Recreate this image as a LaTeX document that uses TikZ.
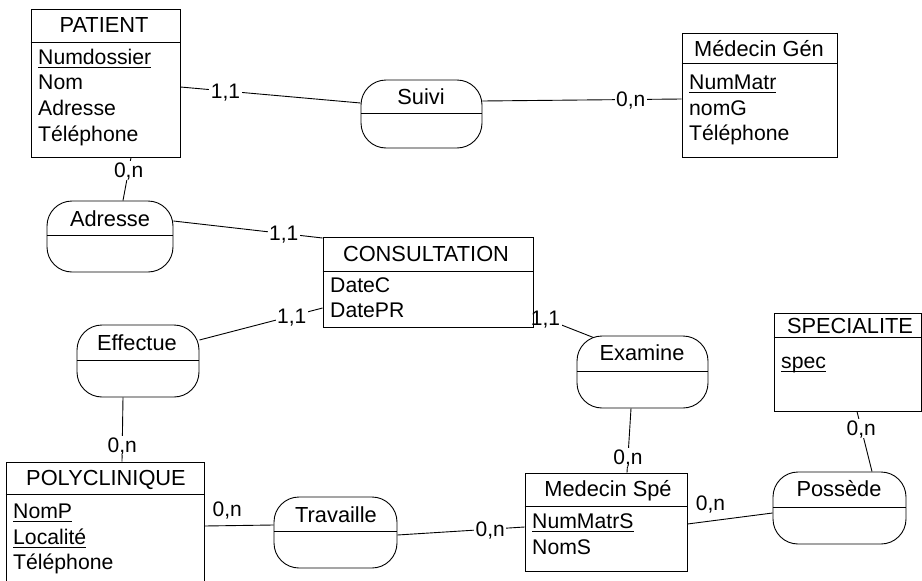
\documentclass[tikz,border=0pt]{standalone}
\usepackage{fontspec}
\setmainfont{Liberation Sans}
\usetikzlibrary{calc}
\pgfdeclarelayer{bg}
\pgfsetlayers{bg,main}
\newcommand\ulx[1]{\setbox0=\hbox{#1}\rlap{\rule[-3.4pt]{\wd0}{1.3pt}}\box0}
\tikzset{
  box/.style={draw, line width=0.9pt, inner sep=0pt, rectangle},
  ent/.style={box},
  rel/.style={box, rounded corners=25pt},
  div/.style={line width=0.9pt},
  ttl/.style={inner sep=0pt, text height=15.5pt, text depth=0pt, anchor=center, font=\fontsize{21.8pt}{25pt}\selectfont},
  att/.style={inner sep=0pt, text height=15.2pt, text depth=0pt, anchor=west, font=\fontsize{21.2pt}{25pt}\selectfont},
  card/.style={fill=white, inner sep=1.5pt, text height=15pt, text depth=1pt, font=\fontsize{21pt}{25pt}\selectfont},
  cardtxt/.style={inner sep=1.5pt, text height=15pt, text depth=1pt, font=\fontsize{21pt}{25pt}\selectfont},
  link/.style={draw, line width=0.9pt},
}
\begin{document}
\begin{tikzpicture}[x=1pt, y=-1pt]
\useasboundingbox (0,0) rectangle (922,581);

% ---------- entities ----------
\node[ent, minimum width=149pt, minimum height=148pt] (patient) at (105.5,83) {};
\draw[div] (patient.west |- 0,42.5) -- (patient.east |- 0,42.5);
\node[ttl] (patientT) at (104,25) {PATIENT};
\node[att] (patientA1) at (38,57) {\ulx{Numdossier}};
\node[att] (patientA2) at (38,82) {Nom};
\node[att] (patientA3) at (38,108) {Adresse};
\node[att] (patientA4) at (38,134) {Téléphone};

\node[ent, minimum width=155pt, minimum height=124pt] (medgen) at (759.5,95) {};
\draw[div] (medgen.west |- 0,63) -- (medgen.east |- 0,63);
\node[ttl] (medgenT) at (759,49) {Médecin Gén};
\node[att] (medgenA1) at (689,82) {\ulx{NumMatr}};
\node[att] (medgenA2) at (689,108) {nomG};
\node[att] (medgenA3) at (689,133) {Téléphone};

\node[ent, minimum width=210pt, minimum height=90pt] (consult) at (428,282) {};
\draw[div] (consult.west |- 0,271) -- (consult.east |- 0,271);
\node[ttl] (consultT) at (426,254) {CONSULTATION};
\node[att] (consultA1) at (330,285) {DateC};
\node[att] (consultA2) at (330,310) {DatePR};

\node[ent, minimum width=147pt, minimum height=98pt] (spec) at (847.5,362) {};
\draw[div] (spec.west |- 0,337) -- (spec.east |- 0,337);
\node[ttl] (specT) at (850,326) {SPECIALITE};
\node[att] (specA1) at (781,361) {\ulx{spec}};

\node[ent, minimum width=198pt, minimum height=138pt] (poly) at (105,531) {};
\draw[div] (poly.west |- 0,494) -- (poly.east |- 0,494);
\node[ttl] (polyT) at (106,478) {POLYCLINIQUE};
\node[att] (polyA1) at (13,511) {\ulx{NomP}};
\node[att] (polyA2) at (13,537) {\ulx{Localité}};
\node[att] (polyA3) at (13,562) {Téléphone};

\node[ent, minimum width=162pt, minimum height=98pt] (medspe) at (606,522) {};
\draw[div] (medspe.west |- 0,506) -- (medspe.east |- 0,506);
\node[ttl] (medspeT) at (608,489) {Medecin Spé};
\node[att] (medspeA1) at (532,521) {\ulx{NumMatrS}};
\node[att] (medspeA2) at (532,547) {NomS};

% ---------- relations ----------
\node[rel, minimum width=121pt, minimum height=68pt] (suivi) at (421.5,114) {};
\draw[div] (suivi.west |- 0,113) -- (suivi.east |- 0,113);
\node[ttl] (suiviT) at (421,97) {Suivi};

\node[rel, minimum width=126pt, minimum height=71pt] (adresse) at (110,236.5) {};
\draw[div] (adresse.west |- 0,235) -- (adresse.east |- 0,235);
\node[ttl] (adresseT) at (110,219) {Adresse};

\node[rel, minimum width=122pt, minimum height=72pt] (effectue) at (138,361) {};
\draw[div] (effectue.west |- 0,360) -- (effectue.east |- 0,360);
\node[ttl] (effectueT) at (137,343) {Effectue};

\node[rel, minimum width=131pt, minimum height=72pt] (examine) at (642.5,372) {};
\draw[div] (examine.west |- 0,371) -- (examine.east |- 0,371);
\node[ttl] (examineT) at (642,353) {Examine};

\node[rel, minimum width=123pt, minimum height=71pt] (travaille) at (335.5,532.5) {};
\draw[div] (travaille.west |- 0,531) -- (travaille.east |- 0,531);
\node[ttl] (travailleT) at (336,515) {Travaille};

\node[rel, minimum width=133pt, minimum height=72pt] (possede) at (839.5,508) {};
\draw[div] (possede.west |- 0,507) -- (possede.east |- 0,507);
\node[ttl] (possedeT) at (839,489) {Possède};

% ---------- connectors ----------
\begin{pgfonlayer}{bg}
\draw[link] (patient.east |- 0,87) -- node[card, pos=0.25] {1,1} (suivi.west |- 0,103);
\draw[link] (suivi.east |- 0,101) -- node[card, pos=0.745] {0,n} (medgen.west |- 0,99);
\draw[link] (131,0 |- patient.south) -- node[card, pos=0.3] {0,n} (123,0 |- adresse.north);
\draw[link] (adresse.east |- 0,221) -- node[card, pos=0.74] {1,1} (consult.west |- 0,238);
\draw[link] (effectue.east |- 0,340) -- node[card, pos=0.75] {1,1} (consult.west |- 0,308);
\draw[link] (123,0 |- effectue.south) -- node[card, pos=0.75] {0,n} (122,0 |- poly.north);
\draw[link] (consult.east |- 0,314) -- node[card, pos=0.2] {1,1} ($(examine.north west)+(17,2)$);
\draw[link] (631,0 |- examine.south) -- node[card, pos=0.77] {0,n} (627,0 |- medspe.north);
\draw[link] (857,0 |- spec.south) -- node[card, pos=0.28] {0,n} (872,0 |- possede.north);
\draw[link] (medspe.east |- 0,524) -- node[cardtxt, pos=0.27, yshift=18pt] {0,n} (possede.west |- 0,513);
\draw[link] (poly.east |- 0,526) -- node[cardtxt, pos=0.33, yshift=16pt] {0,n} (travaille.west |- 0,525);
\draw[link] (travaille.east |- 0,535) -- node[card, pos=0.73] {0,n} (medspe.west |- 0,527);
\end{pgfonlayer}
\end{tikzpicture}
\end{document}
